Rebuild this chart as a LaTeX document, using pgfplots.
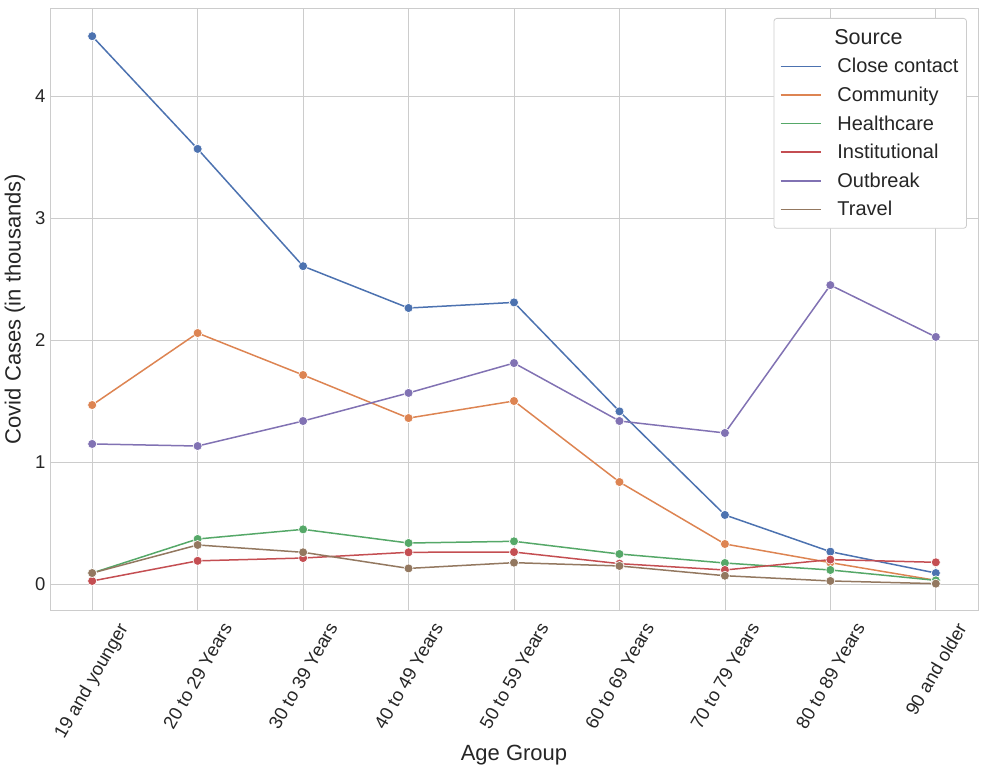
\documentclass[border=0pt]{standalone}
\usepackage{graphicx}
\usepackage{pgfplots}
\pgfplotsset{compat=1.18}
\usepackage{fontspec}
\setmainfont{Liberation Sans}
\definecolor{cblue}{HTML}{4C72B0}
\definecolor{corange}{HTML}{DD8452}
\definecolor{cgreen}{HTML}{55A868}
\definecolor{cred}{HTML}{C44E52}
\definecolor{cpurple}{HTML}{8172B3}
\definecolor{cbrown}{HTML}{937860}
\definecolor{gridc}{HTML}{CCCCCC}
\definecolor{txt}{HTML}{262626}
\newcommand{\rl}[1]{\rotatebox{60}{#1}}
\begin{document}
\begin{tikzpicture}
\begin{axis}[
  scale only axis,
  width=928bp, height=602bp,
  xmin=-0.4, xmax=8.4,
  ymin=-0.213, ymax=4.721,
  xtick={0,1,2,3,4,5,6,7,8},
  xticklabels={\rl{19 and younger},\rl{20 to 29 Years},\rl{30 to 39 Years},\rl{40 to 49 Years},\rl{50 to 59 Years},\rl{60 to 69 Years},\rl{70 to 79 Years},\rl{80 to 89 Years},\rl{90 and older}},
  ytick={0,1,2,3,4},
  /pgf/number format/assume math mode=true,
  tick label style={font=\fontsize{18.5bp}{22bp}\selectfont, text=txt},
  xticklabel style={anchor=north, inner sep=0bp, yshift=-11bp},
  yticklabel style={xshift=-1bp},
  major tick length=0pt,
  grid=major,
  grid style={gridc, line width=0.8bp},
  axis line style={gridc, line width=0.8bp},
  xlabel={Age Group},
  ylabel={Covid Cases (in thousands)},
  label style={font=\fontsize{22bp}{26bp}\selectfont, text=txt},
  xlabel style={at={(rel axis cs:0.5,0)}, anchor=center, yshift=-145bp},
  ylabel style={at={(rel axis cs:0,0.5)}, anchor=center, yshift=35bp},
  clip=false,
  legend style={at={(rel axis cs:0.9881,0.9834)}, anchor=north east, draw=gridc, rounded corners=3bp, line width=0.8bp, font=\fontsize{20bp}{24bp}\selectfont, text=txt, row sep=8.6bp, inner xsep=6bp, inner ysep=9bp},
  legend cell align=left,
  legend image post style={mark=none},
  legend image code/.code={\draw[#1, line width=1.5bp] (0bp,0bp) -- (40bp,0bp); \path (54bp,0bp);},
  every axis plot/.append style={line width=1.5bp, mark=*, mark size=4.5bp},
]
\addlegendimage{empty legend}
\addlegendentry{\hspace{-3bp}\fontsize{21.5bp}{25bp}\selectfont Source}
\addplot[cblue, mark options={fill=cblue, draw=white, line width=0.6bp}] coordinates {(0,4.49) (1,3.566) (2,2.605) (3,2.262) (4,2.308) (5,1.415) (6,0.566) (7,0.265) (8,0.09)};
\addlegendentry{Close contact}
\addplot[corange, mark options={fill=corange, draw=white, line width=0.6bp}] coordinates {(0,1.467) (1,2.057) (2,1.713) (3,1.36) (4,1.50) (5,0.836) (6,0.328) (7,0.175) (8,0.03)};
\addlegendentry{Community}
\addplot[cgreen, mark options={fill=cgreen, draw=white, line width=0.6bp}] coordinates {(0,0.09) (1,0.369) (2,0.448) (3,0.336) (4,0.35) (5,0.246) (6,0.172) (7,0.115) (8,0.03)};
\addlegendentry{Healthcare}
\addplot[cred, mark options={fill=cred, draw=white, line width=0.6bp}] coordinates {(0,0.025) (1,0.19) (2,0.213) (3,0.26) (4,0.262) (5,0.167) (6,0.115) (7,0.2) (8,0.178)};
\addlegendentry{Institutional}
\addplot[cpurple, mark options={fill=cpurple, draw=white, line width=0.6bp}] coordinates {(0,1.148) (1,1.131) (2,1.336) (3,1.566) (4,1.811) (5,1.336) (6,1.238) (7,2.45) (8,2.025)};
\addlegendentry{Outbreak}
\addplot[cbrown, mark options={fill=cbrown, draw=white, line width=0.6bp}] coordinates {(0,0.09) (1,0.32) (2,0.26) (3,0.128) (4,0.175) (5,0.148) (6,0.068) (7,0.025) (8,0.003)};
\addlegendentry{Travel}
\path (rel axis cs:1,1) ++(23bp,8bp);
\path (rel axis cs:0,0) ++(-50bp,-165bp);
\end{axis}
\end{tikzpicture}
\end{document}
